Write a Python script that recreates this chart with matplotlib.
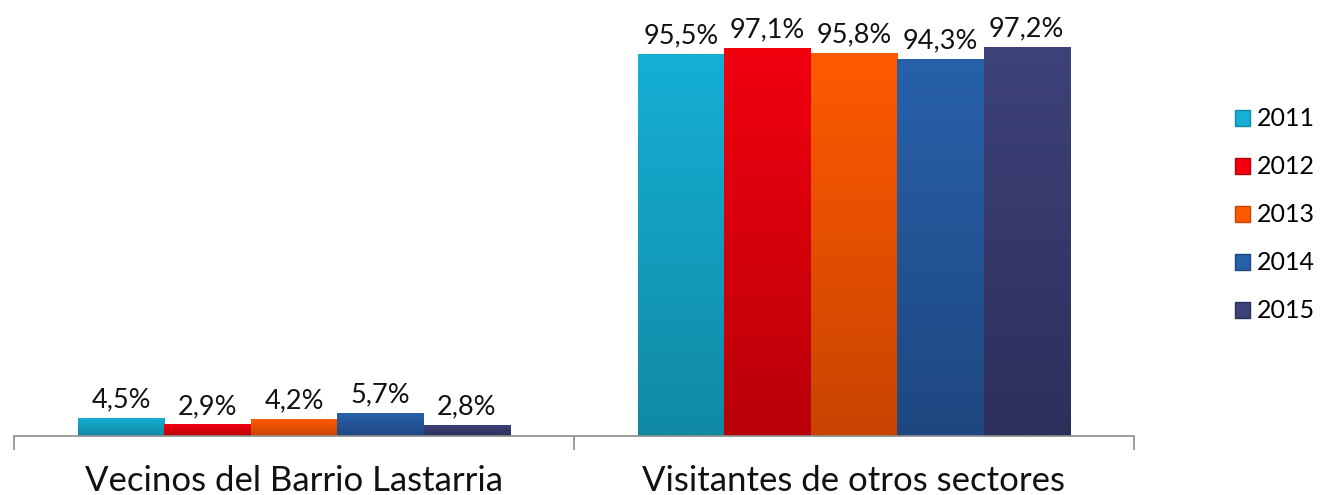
import numpy as np
import matplotlib.pyplot as plt
from matplotlib.colors import LinearSegmentedColormap
from matplotlib.patches import Patch

# datos
categorias = ['Vecinos del Barrio Lastarria', 'Visitantes de otros sectores']
anios = ['2011', '2012', '2013', '2014', '2015']
vecinos = [4.5, 2.9, 4.2, 5.7, 2.8]
visitantes = [95.5, 97.1, 95.8, 94.3, 97.2]
valores = np.array([vecinos, visitantes])  # fila = categoria, columna = año

# colores (arriba claro, abajo oscuro)
col_top = ['#16AFD5', '#F2000F', '#FF5A00', '#2861AA', '#3D4279']
col_bot = ['#108AA4', '#B80009', '#C84400', '#1E4780', '#2D2F5B']

plt.rcParams['font.family'] = ['Lato', 'DejaVu Sans']

fig = plt.figure(figsize=(13.28, 4.95), dpi=100)
ax = fig.add_axes([14 / 1328, 1 - 436 / 495, 1120 / 1328, 400 / 495])

n = len(anios)
ancho = 0.771 / n
x = np.arange(len(categorias))
grad = np.linspace(1, 0, 256).reshape(-1, 1)

for i, anio in enumerate(anios):
    pos = x - 0.771 / 2 + ancho * (i + 0.5)
    barras = ax.bar(pos, valores[:, i], width=ancho, color='none', edgecolor='none')
    cmap = LinearSegmentedColormap.from_list('g' + anio, [col_bot[i], col_top[i]])
    for b, v in zip(barras, valores[:, i]):
        x0 = b.get_x()
        im = ax.imshow(grad, cmap=cmap, vmin=0, vmax=1, aspect='auto',
                       extent=[x0, x0 + b.get_width(), 0, v], zorder=2)
        im.set_clip_path(b)
        ax.annotate(f'{v:.1f}%'.replace('.', ','), (b.get_x() + b.get_width() / 2, v),
                    xytext=(0, 4), textcoords='offset points', ha='center', va='bottom',
                    fontsize=19.5, color='#111111')

ax.set_xlim(-0.5, 1.5)
ax.set_ylim(0, 100)

for s in ['top', 'right', 'left']:
    ax.spines[s].set_visible(False)
ax.spines['bottom'].set_color('#8C8C8C')
ax.spines['bottom'].set_linewidth(1.2)
ax.set_yticks([])

ax.set_xticks([-0.5, 0.5, 1.5])
ax.set_xticklabels([])
ax.tick_params(axis='x', which='major', direction='out', length=10, color='#8C8C8C', width=1.2)
ax.set_xticks(x, minor=True)
ax.set_xticklabels(categorias, minor=True, fontsize=25, color='#111111')
ax.tick_params(axis='x', which='minor', length=0, pad=21)

handles = [Patch(facecolor=col_top[i], edgecolor=col_bot[i], label=a) for i, a in enumerate(anios)]
fig.legend(handles=handles, loc='center left', bbox_to_anchor=(1212 / 1328, 1 - 215 / 495),
           frameon=False, fontsize=18, handlelength=0.6, handleheight=0.6,
           handletextpad=0.3, labelspacing=1.0)

fig.savefig('out.png', dpi=100)
